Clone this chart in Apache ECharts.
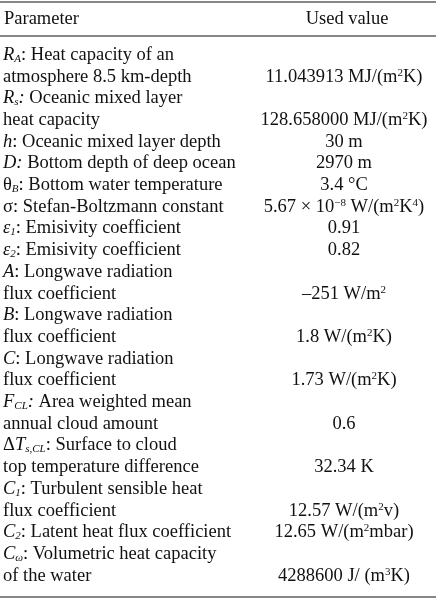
<!DOCTYPE html>
<html>
<head>
<meta charset="UTF-8">
<title>Parameter table</title>
<script src="https://cdn.jsdelivr.net/npm/echarts@6/dist/echarts.min.js"></script>
<style>
	html, body { margin: 0; padding: 0; background: #fff; }
	#main { width: 436px; height: 602px; }
</style>
</head>
<body>
<div id="main"></div>
<script>
	// table texts, one entry per printed line
	var headers = ['Parameter', 'Used value'];
	var paramLines = [
		'{i|R}{isub|A}: Heat capacity of an',
		'atmosphere 8.5 km-depth',
		'{i|R}{isub|s}{i|:} Oceanic mixed layer',
		'heat capacity',
		'{i|h}: Oceanic mixed layer depth',
		'{i|D:} Bottom depth of deep ocean',
		'θ{isub|B}: Bottom water temperature',
		'σ: Stefan-Boltzmann constant',
		'{i|ε}{isub|1}: Emisivity coefficient',
		'{i|ε}{isub|2}: Emisivity coefficient',
		'{i|A}: Longwave radiation',
		'flux coefficient',
		'{i|B}: Longwave radiation',
		'flux coefficient',
		'{i|C}: Longwave radiation',
		'flux coefficient',
		'{i|F}{isub|CL}{i|:} Area weighted mean',
		'annual cloud amount',
		'Δ{i|T}{isub|s,CL}: Surface to cloud',
		'top temperature difference',
		'{i|C}{isub|1}: Turbulent sensible heat',
		'flux coefficient',
		'{i|C}{isub|2}: Latent heat flux coefficient',
		'{i|C}{isub|ω}: Volumetric heat capacity',
		'of the water'
	];
	var valueLines = [
		'',
		'11.043913 MJ/(m{sup|2}K)',
		'',
		'128.658000 MJ/(m{sup|2}K)',
		'30 m',
		'2970 m',
		'3.4 °C',
		'5.67 × 10{sup|−8} W/(m{sup|2}K{sup|4})',
		'0.91',
		'0.82',
		'',
		'–251 W/m{sup|2}',
		'',
		'1.8 W/(m{sup|2}K)',
		'',
		'1.73 W/(m{sup|2}K)',
		'',
		'0.6',
		'',
		'32.34 K',
		'',
		'12.57 W/(m{sup|2}v)',
		'12.65 W/(m{sup|2}mbar)',
		'',
		'4288600 J/ (m{sup|3}K)'
	];

	var chart = echarts.init(document.getElementById('main'));
	var font = '"Liberation Serif", "DejaVu Serif", serif';
	var fs = 18.5, ink = '#111';
	var rich = {
		i: { fontStyle: 'italic', fontFamily: font, fontSize: fs, fill: ink },
		isub: { fontStyle: 'italic', fontFamily: font, fontSize: 11, fill: ink, verticalAlign: 'bottom', padding: [7, 0, 0, 0] },
		sup: { fontFamily: font, fontSize: 11, fill: ink, verticalAlign: 'top', padding: [0, 0, 7, 0] }
	};

	var firstY = 55, step = 21.7, valueX = 344;
	var els = [
		{ type: 'line', shape: { x1: 0, y1: 2, x2: 436, y2: 2 }, style: { stroke: '#111', lineWidth: 1.2 } },
		{ type: 'line', shape: { x1: 0, y1: 36, x2: 436, y2: 36 }, style: { stroke: '#111', lineWidth: 1 } },
		{ type: 'line', shape: { x1: 0, y1: 597, x2: 436, y2: 597 }, style: { stroke: '#111', lineWidth: 1.2 } },
		{ type: 'text', x: 4, y: 19, style: { text: headers[0], font: fs + 'px ' + font, fill: ink, verticalAlign: 'middle' } },
		{ type: 'text', x: 347, y: 19, style: { text: headers[1], font: fs + 'px ' + font, fill: ink, align: 'center', verticalAlign: 'middle' } }
	];
	paramLines.forEach(function (t, k) {
		var y = firstY + k * step;
		els.push({ type: 'text', x: 3, y: y, style: {
			text: t, rich: rich, fontFamily: font, fontSize: fs, fill: ink, verticalAlign: 'middle'
		} });
		if (valueLines[k]) {
			els.push({ type: 'text', x: valueX, y: y, style: {
				text: valueLines[k], rich: rich, fontFamily: font, fontSize: fs, fill: ink, align: 'center', verticalAlign: 'middle'
			} });
		}
	});

	chart.setOption({ animation: false, graphic: { elements: els } });
</script>
</body>
</html>
